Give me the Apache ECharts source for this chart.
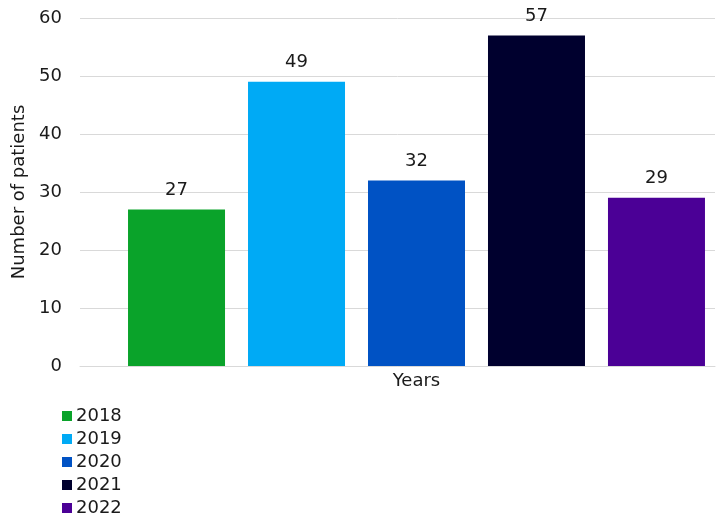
<!DOCTYPE html>
<html><head><meta charset="utf-8">
<script src="https://cdn.jsdelivr.net/npm/echarts@6/dist/echarts.min.js"></script>
<style>html,body{margin:0;padding:0;background:#fff}#c{width:719px;height:516px}</style>
</head><body><div id="c"></div>
<script>
const categories = ['Years'];
const seriesNames = ['2018', '2019', '2020', '2021', '2022'];
const seriesValues = [27, 49, 32, 57, 29];
const colors = ['#0aa32a', '#00aaf5', '#0052c4', '#00002e', '#4b0096'];
const yTicks = [0, 10, 20, 30, 40, 50, 60];

const font = '"DejaVu Sans", Verdana, sans-serif';
const txt = '#1a1a1a';
const fs = 18;
const chart = echarts.init(document.getElementById('c'));
const series = seriesNames.map((n, i) => ({
  name: n, type: 'bar', xAxisIndex: 1, yAxisIndex: 1,
  data: [seriesValues[i]], barWidth: 97, barGap: '23.7%',
  itemStyle: { color: colors[i] },
  label: { show: true, position: 'top', distance: 10, color: txt, fontSize: fs, fontFamily: font }
}));
chart.setOption({
  animation: false,
  textStyle: { fontFamily: font },
  grid: [
    { left: 80, right: 4, top: 18, bottom: 150 },
    { left: 118, right: 4, top: 18, bottom: 150 }
  ],
  xAxis: [
    { gridIndex: 0, type: 'category', data: categories,
      axisLine: { lineStyle: { color: '#d9d9d9' } }, axisTick: { show: false }, axisLabel: { show: false } },
    { gridIndex: 1, type: 'category', data: categories,
      axisLine: { show: false }, axisTick: { show: false },
      axisLabel: { color: txt, fontSize: fs, fontFamily: font, margin: 6 } }
  ],
  yAxis: [
    { gridIndex: 0, type: 'value', min: yTicks[0], max: yTicks[yTicks.length - 1], interval: 10,
      name: 'Number of patients', nameLocation: 'middle', nameGap: 40,
      nameTextStyle: { color: txt, fontSize: fs, fontFamily: font },
      axisLine: { show: false }, axisTick: { show: false },
      axisLabel: { color: txt, fontSize: fs, fontFamily: font, margin: 18 },
      splitLine: { lineStyle: { color: '#d9d9d9' } } },
    { gridIndex: 1, type: 'value', min: 0, max: 60, show: false, splitLine: { show: false } }
  ],
  legend: {
    data: seriesNames, orient: 'vertical', left: 57, top: 402, height: 120, itemGap: 5,
    itemWidth: 10, itemHeight: 10, icon: 'rect',
    textStyle: { color: txt, fontSize: fs, fontFamily: font, padding: [0, 0, 0, -1] }
  },
  series: series
});
</script></body></html>
